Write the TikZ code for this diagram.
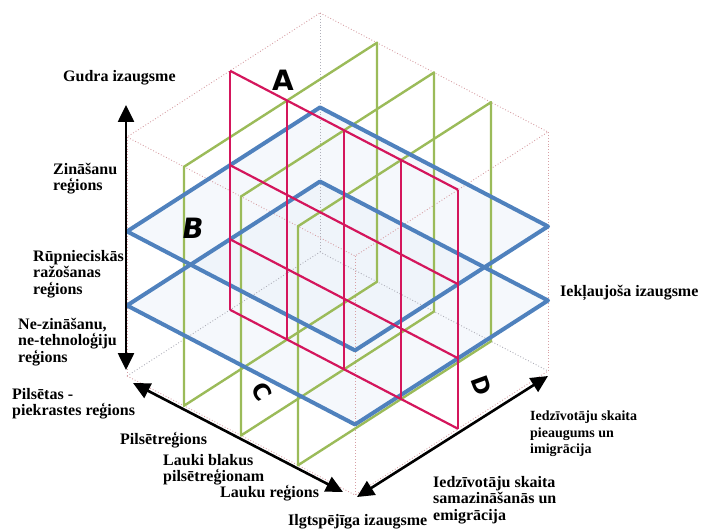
\documentclass[tikz,border=0pt]{standalone}
\usepackage{fontspec}
\setmainfont{Liberation Serif}
\newfontfamily\handfont{DejaVu Sans}
\usetikzlibrary{arrows.meta}

\definecolor{planeblue}{RGB}{79,129,189}
\definecolor{planered}{RGB}{212,22,92}
\definecolor{planegreen}{RGB}{155,187,89}
\definecolor{cubedot}{RGB}{215,160,165}
\definecolor{innerdot}{RGB}{175,175,185}
\definecolor{planefill}{RGB}{232,239,248}

\begin{document}
\begin{tikzpicture}[x=1pt,y=-1pt,
  lbl/.style={font=\fontsize{16}{16.5}\selectfont\bfseries, align=left,
    anchor=north west, inner sep=0pt},
  smalllbl/.style={lbl, font=\fontsize{14}{16.5}\selectfont\bfseries},
  letter/.style={font=\handfont\bfseries\fontsize{28}{28}\selectfont, inner sep=0pt},
  smallletter/.style={letter, font=\handfont\bfseries\fontsize{23}{23}\selectfont},
  cubeedge/.style={cubedot, dotted, line width=0.9pt},
  hiddenedge/.style={innerdot, dotted, line width=0.9pt},
  greenplane/.style={planegreen, line width=2.4pt, line join=round},
  blueplane/.style={planeblue, line width=4pt, line join=round},
  redplane/.style={planered, line width=2.2pt, line join=round},
  axisarrow/.style={black, line width=2.6pt,
    {Triangle[length=17pt,width=16pt]}-{Triangle[length=17pt,width=16pt]}}]
\useasboundingbox (0,0) rectangle (707,532);

% oblique projection of the unit cube: x = towards the right, y = towards the left, z = down
\begin{scope}[shift={(320pt,-13pt)}, x={(228pt,-119pt)}, y={(-193pt,-124pt)}, z={(0pt,-239pt)}]
  % translucent fill of the two horizontal layers
  \foreach \h in {0.395,0.705}
    \fill[planefill, opacity=0.45] (0,0,\h) -- (1,0,\h) -- (1,1,\h) -- (0,1,\h) -- cycle;
  % hidden edges of the cube
  \draw[hiddenedge] (0,0,0) -- (0,0,1);
  \draw[hiddenedge] (0,1,1) -- (0,0,1) -- (1,0,1);
  % visible edges of the cube
  \draw[cubeedge] (0,0,0) -- (1,0,0) -- (1,1,0) -- (0,1,0) -- cycle;
  \draw[cubeedge] (1,0,0) -- (1,0,1);
  \draw[cubeedge] (1,1,0) -- (1,1,1);
  \draw[cubeedge] (0,1,0) -- (0,1,1);
  \draw[cubeedge] (0,1,1) -- (1,1,1) -- (1,0,1);
  % three vertical green slices
  \foreach \s in {0.25,0.5,0.75}
    \draw[greenplane] (\s,0,0) -- (\s,1,0) -- (\s,1,1) -- (\s,0,1) -- cycle;
  % two horizontal blue layers
  \foreach \h in {0.395,0.705}
    \draw[blueplane] (0,0,\h) -- (1,0,\h) -- (1,1,\h) -- (0,1,\h) -- cycle;
  % red vertical slice with its grid
  \foreach \h in {0,0.395,0.705,1}
    \draw[redplane] (0,0.466,\h) -- (1,0.466,\h);
  \foreach \s in {0,0.25,0.5,0.75,1}
    \draw[redplane] (\s,0.466,0) -- (\s,0.466,1);
\end{scope}

% axes
\coordinate (vtop) at (126,105);
\coordinate (vbot) at (126,370);
\coordinate (ltop) at (133,383);
\coordinate (lbot) at (343,492);
\coordinate (rbot) at (357,497);
\coordinate (rtop) at (548,376);
\draw[axisarrow] (vtop) -- (vbot);
\draw[axisarrow] (ltop) -- (lbot);
\draw[axisarrow] (rbot) -- (rtop);

% hand-written segment letters
\node[letter] (segA) at (283,80) {A};
\node[letter, xslant=0.15] (segB) at (193,228) {B};
\node[smallletter, rotate=-60] (segC) at (262,392) {C};
\node[smallletter, rotate=-70] (segD) at (482,386) {D};

% axis labels
\node[lbl] (gudra) at (63,70) {Gudra izaugsme};
\node[lbl] (zinas) at (53,163) {Zināšanu\\reģions};
\node[lbl] (rupn) at (33,250) {Rūpnieciskās\\ražošanas\\reģions};
\node[lbl] (nezin) at (18,318) {Ne-zināšanu,\\ne-tehnoloģiju\\reģions};
\node[lbl] (piekr) at (12,388) {Pilsētas -\\piekrastes reģions};
\node[lbl] (pilsreg) at (120,432) {Pilsētreģions};
\node[lbl] (blakus) at (163,454) {Lauki blakus\\pilsētreģionam};
\node[lbl] (lauku) at (220,485) {Lauku reģions};
\node[lbl] (ilgt) at (288,514) {Ilgtspējīga izaugsme};
\node[lbl] (iekl) at (560,285) {Iekļaujoša izaugsme};
\node[smalllbl] (pieaug) at (530,411) {Iedzīvotāju skaita\\pieaugums un\\imigrācija};
\node[lbl] (samaz) at (433,476) {Iedzīvotāju skaita\\samazināšanās un\\emigrācija};
\end{tikzpicture}
\end{document}
